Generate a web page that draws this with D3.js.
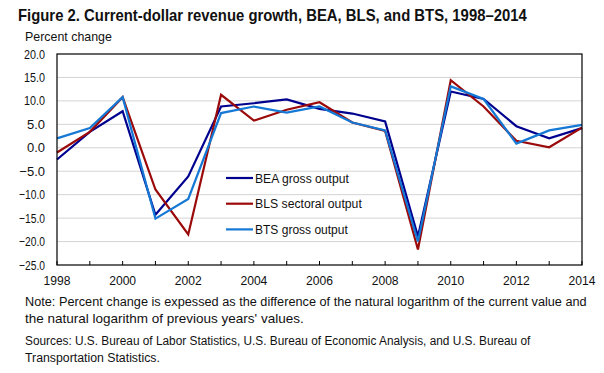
<!DOCTYPE html>
<html>
<head>
<meta charset="utf-8">
<script src="https://cdn.jsdelivr.net/npm/d3@7.9.0/dist/d3.min.js"></script>
<style>
  body { margin: 0; background: #fff; }
  svg { display: block; font-family: "Liberation Sans", Arial, sans-serif; }
</style>
</head>
<body>
<svg id="chart" width="604" height="373"></svg>
<script>
const years = d3.range(1998, 2015);
const bea = [-2.5, 3.4, 7.8, -14.3, -6.1, 8.8, 9.5, 10.3, 8.3, 7.3, 5.6, -18.9, 12.0, 10.4, 4.6, 2.0, 4.2];
const bls = [-1.0, 3.4, 10.8, -8.9, -18.5, 11.3, 5.8, 8.1, 9.7, 5.4, 3.6, -21.7, 14.4, 8.8, 1.5, 0.1, 4.3];
const bts = [2.0, 4.2, 10.8, -15.1, -10.9, 7.4, 8.8, 7.5, 8.8, 5.4, 3.7, -20.0, 13.1, 10.4, 0.9, 3.7, 4.9];
const yTicks = [20, 15, 10, 5, 0, -5, -10, -15, -20, -25];
const xLabels = [1998, 2000, 2002, 2004, 2006, 2008, 2010, 2012, 2014];

const series = [
  { name: 'BEA gross output', values: bea, color: '#00008f', w: 94 },
  { name: 'BLS sectoral output', values: bls, color: '#9b0a0a', w: 107 },
  { name: 'BTS gross output', values: bts, color: '#1478d4', w: 93 }
];

const svg = d3.select('#chart');
const plotLeft = 57, plotRight = 582, plotTop = 54, plotBottom = 265;

const x = d3.scaleLinear().domain([1998, 2014]).range([plotLeft, plotRight]);
const y = d3.scaleLinear().domain([-25, 20]).range([plotBottom, plotTop]);

// the original uses a condensed face, so squeeze each text horizontally
function squeeze(node, px, py, width) {
  const k = Math.min(1, width / node.getComputedTextLength());
  d3.select(node)
    .attr('x', 0).attr('y', 0)
    .attr('transform', `translate(${px},${py}) scale(${k},1)`);
}

// title
svg.append('text')
  .attr('font-size', 16).attr('font-weight', 'bold')
  .attr('fill', '#111')
  .text('Figure 2. Current-dollar revenue growth, BEA, BLS, and BTS, 1998\u20132014')
  .each(function () { squeeze(this, 18, 21, 509); });

svg.append('text')
  .attr('font-size', 13).attr('fill', '#111')
  .text('Percent change')
  .each(function () { squeeze(this, 25, 41, 87); });

// gridlines
svg.append('g')
  .selectAll('line')
  .data(yTicks.filter((d) => d !== 20 && d !== -25))
  .join('line')
  .attr('x1', plotLeft).attr('x2', plotRight)
  .attr('y1', (d) => y(d)).attr('y2', (d) => y(d))
  .attr('stroke', '#d4d4d4').attr('stroke-width', 1);

// y axis labels
svg.append('g')
  .selectAll('text')
  .data(yTicks)
  .join('text')
  .attr('text-anchor', 'end')
  .attr('font-size', 13).attr('fill', '#111')
  .text((d) => d3.format('.1f')(d))
  .each(function (d) { squeeze(this, 45, y(d) + 4.5, d < 0 ? 26 : 21); });

// x ticks (inward)
svg.append('g')
  .selectAll('line')
  .data(years)
  .join('line')
  .attr('x1', (d) => x(d)).attr('x2', (d) => x(d))
  .attr('y1', plotBottom).attr('y2', plotBottom - 4)
  .attr('stroke', '#000').attr('stroke-width', 1);

svg.append('g')
  .selectAll('text')
  .data(xLabels)
  .join('text')
  .attr('text-anchor', 'middle')
  .attr('font-size', 13).attr('fill', '#111')
  .text((d) => d)
  .each(function (d) { squeeze(this, x(d), 285, 27); });

// lines
const line = d3.line()
  .x((d, i) => x(years[i]))
  .y((d) => y(d));

svg.append('g')
  .selectAll('path')
  .data(series)
  .join('path')
  .attr('d', (d) => line(d.values))
  .attr('fill', 'none')
  .attr('stroke', (d) => d.color)
  .attr('stroke-width', 2.2)
  .attr('stroke-linejoin', 'miter');

// frame
svg.append('rect')
  .attr('x', plotLeft).attr('y', plotTop)
  .attr('width', plotRight - plotLeft).attr('height', plotBottom - plotTop)
  .attr('fill', 'none').attr('stroke', '#000').attr('stroke-width', 1.2);

// legend
const legend = svg.append('g')
  .selectAll('g')
  .data(series)
  .join('g')
  .attr('transform', (d, i) => `translate(226,${178 + i * 25.7})`);

legend.append('line')
  .attr('x1', 0).attr('x2', 27)
  .attr('stroke', (d) => d.color).attr('stroke-width', 2.2);

legend.append('text')
  .attr('font-size', 13.5).attr('fill', '#111')
  .text((d) => d.name)
  .each(function (d) { squeeze(this, 29, 4.5, d.w); });

// notes
const noteLines = [
  'Note: Percent change is expessed as the difference of the natural logarithm of the current value and',
  "the natural logarithm of previous years' values.",
  'Sources: U.S. Bureau of Labor Statistics, U.S. Bureau of Economic Analysis, and U.S. Bureau of',
  'Transportation Statistics.'
];
const noteWidths = [562, 294, 506, 135];
const noteY = [306, 323, 345, 362];

svg.append('g')
  .selectAll('text')
  .data(noteLines)
  .join('text')
  .attr('font-size', 13.5).attr('fill', '#111')
  .text((d) => d)
  .each(function (d, i) { squeeze(this, 25, noteY[i], noteWidths[i]); });
</script>
</body>
</html>
